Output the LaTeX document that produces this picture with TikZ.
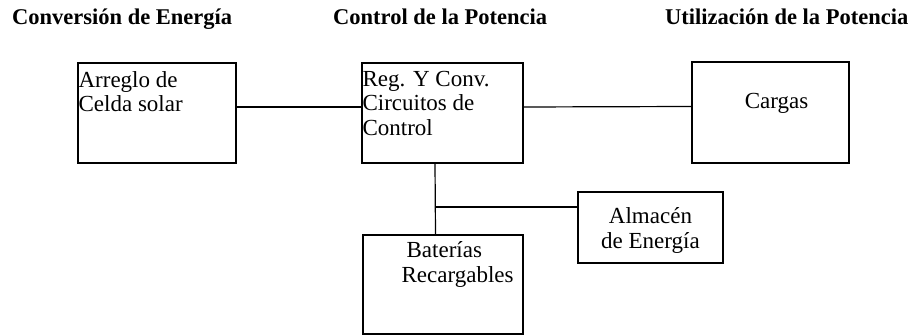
\documentclass[tikz,border=0pt]{standalone}
\usepackage{fontspec}
\setmainfont{Liberation Serif}
\usetikzlibrary{positioning}

\tikzset{
  caja/.style={draw, line width=1.2pt, inner sep=0pt},
  texto/.style={font=\fontsize{23}{24.5}\selectfont, inner sep=0pt},
  titulo/.style={font=\bfseries\fontsize{22.5}{26}\selectfont, inner sep=0pt, anchor=base west},
  linea/.style={line width=1.2pt}
}

\begin{document}
\begin{tikzpicture}[x=1pt,y=-1pt]
\useasboundingbox (0,0) rectangle (918,336);

% titulos de las tres etapas
\node[titulo] (conv) at (12,25) {Conversión de Energía};
\node[titulo] (pot) at (333,25) {Control de la Potencia};
\node[titulo] (util) at (665,25) {Utilización de la Potencia};

% bloques
\node[caja, minimum width=158pt, minimum height=100pt] (arreglo) at (157,113) {};
\node[caja, minimum width=161pt, minimum height=100pt] (control) at (442.5,113) {};
\node[caja, minimum width=157pt, minimum height=101pt] (cargas) at (770.5,112.5) {};
\node[caja, minimum width=145pt, minimum height=71pt] (almacen) at (650.5,227.5) {};
\node[caja, minimum width=160pt, minimum height=99pt] (baterias) at (443,284.5) {};

% textos de los bloques
\node[texto, anchor=north west, align=left] (tarreglo) at ([xshift=1pt,yshift=-8.5pt]arreglo.north west) {Arreglo de\\Celda solar};
\node[texto, anchor=north west, align=left] (tcontrol) at ([xshift=1pt,yshift=-8.5pt]control.north west) {Reg. Y Conv.\\Circuitos de\\Control};
\node[texto] (tcargas) at ([xshift=6pt,yshift=9pt]cargas.center) {Cargas};
\node[texto, align=center] (talmacen) at ([yshift=-3pt]almacen.center) {Almacén\\de Energía};
\node[texto, anchor=north west, align=left] (tbaterias) at ([xshift=39pt,yshift=-7pt]baterias.north west) {\hspace{5pt}Baterías\\Recargables};

% conexiones
\draw[linea] ([yshift=6pt]arreglo.east) -- ([yshift=6pt]control.west);
\draw[linea] ([yshift=6pt]control.east) -- ([yshift=6pt]cargas.west);
\draw[linea] ([xshift=-7.5pt]control.south) -- ([xshift=-7.5pt]baterias.north);
\coordinate (nodo) at (435,207);
\draw[linea] (nodo) -- (nodo -| almacen.west);
\end{tikzpicture}
\end{document}
